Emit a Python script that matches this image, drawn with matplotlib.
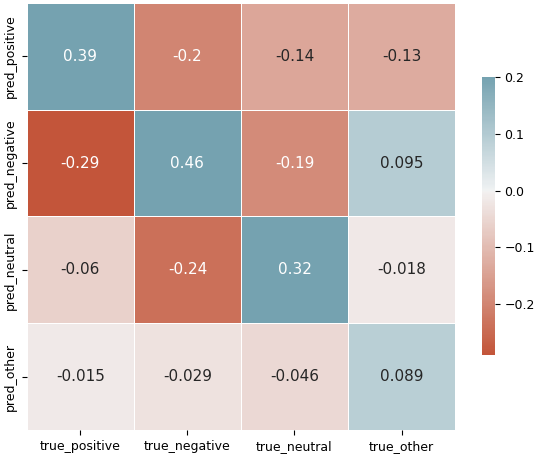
import numpy as np
import matplotlib
matplotlib.use("Agg")
import matplotlib.pyplot as plt
import seaborn as sns

# data
rows = ["pred_positive", "pred_negative", "pred_neutral", "pred_other"]
cols = ["true_positive", "true_negative", "true_neutral", "true_other"]
vals = np.array([
    [0.39, -0.2, -0.14, -0.13],
    [-0.29, 0.46, -0.19, 0.095],
    [-0.06, -0.24, 0.32, -0.018],
    [-0.015, -0.029, -0.046, 0.089],
])
annots = [
    ["0.39", "-0.2", "-0.14", "-0.13"],
    ["-0.29", "0.46", "-0.19", "0.095"],
    ["-0.06", "-0.24", "0.32", "-0.018"],
    ["-0.015", "-0.029", "-0.046", "0.089"],
]

fig = plt.figure(figsize=(5.36, 4.54), dpi=100)
ax = fig.add_axes([0.050, 0.053, 0.799, 0.9405])
cax = fig.add_axes([0.899, 0.218, 0.024, 0.612])

cmap = sns.diverging_palette(20, 220, as_cmap=True)
sns.heatmap(vals, ax=ax, cbar_ax=cax, cmap=cmap, vmax=0.2, center=0,
            annot=np.array(annots), fmt="", annot_kws={"size": 11},
            linewidths=0.5, linecolor="white",
            xticklabels=cols, yticklabels=rows)
ax.tick_params(axis="both", labelsize=9)
ax.set_yticklabels(rows, rotation=90, va="center")
cax.tick_params(labelsize=9)
cax.set_yticks([-0.2, -0.1, 0.0, 0.1, 0.2])

fig.savefig("out.png", dpi=100)
